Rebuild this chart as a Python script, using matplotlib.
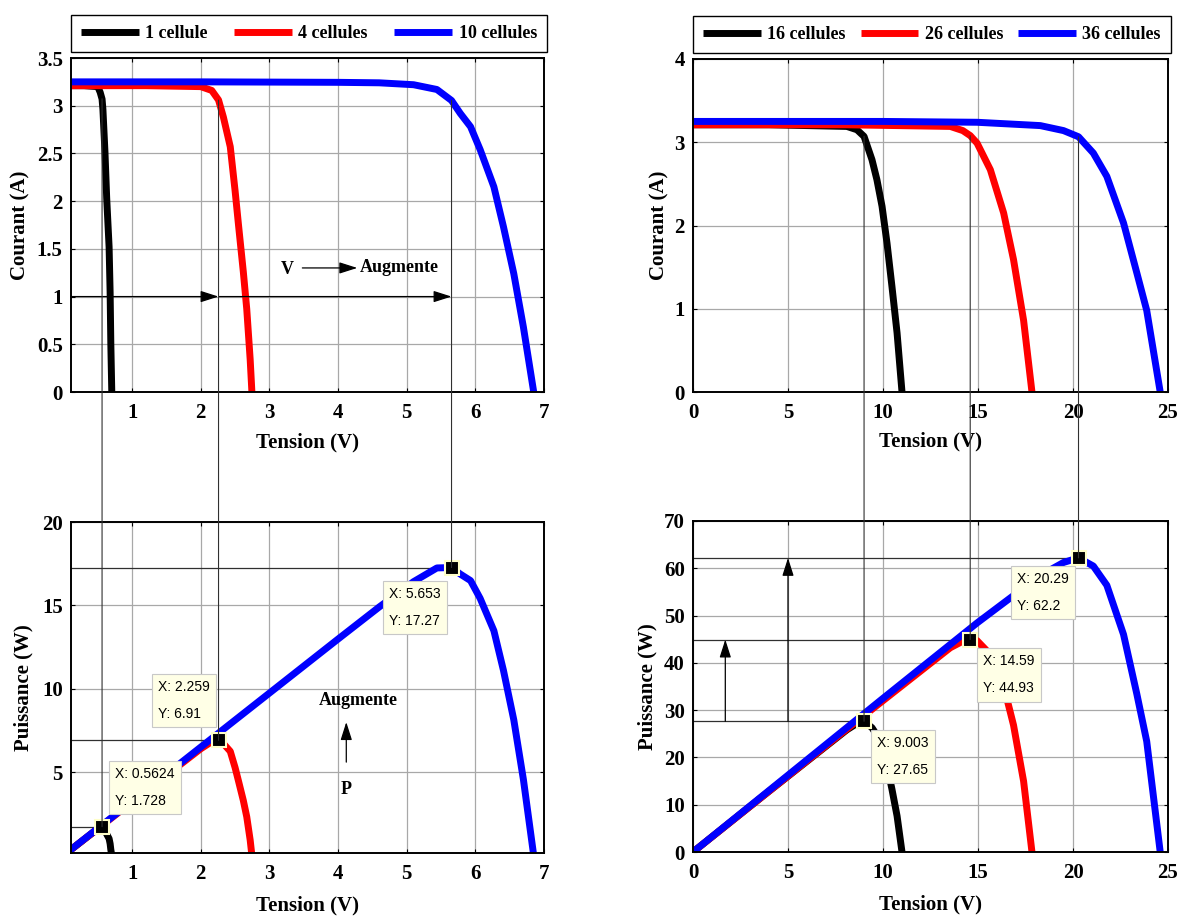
import matplotlib
matplotlib.use("Agg")
import matplotlib.pyplot as plt
from matplotlib.patches import ConnectionPatch

plt.rcParams['font.family'] = ['Liberation Serif', 'DejaVu Serif']
plt.rcParams['font.weight'] = 'bold'

# ---------------- data ----------------
V1 = [0, 0.30, 0.50, 0.535, 0.5624, 0.575, 0.605, 0.63, 0.665, 0.68, 0.69, 0.704]
I1 = [3.21, 3.21, 3.20, 3.14, 3.07, 2.96, 2.51, 2.03, 1.52, 1.04, 0.51, 0.0]

V4 = [0, 1.2, 2.0, 2.16, 2.259, 2.33, 2.43, 2.50, 2.55, 2.62, 2.67, 2.72, 2.745]
I4 = [3.21, 3.21, 3.20, 3.16, 3.06, 2.88, 2.57, 2.11, 1.75, 1.26, 0.87, 0.34, 0.0]

V10 = [0, 2.0, 4.0, 4.6, 5.1, 5.44, 5.653, 5.78, 5.93, 6.07, 6.27, 6.41, 6.56, 6.70, 6.85]
I10 = [3.25, 3.25, 3.245, 3.24, 3.22, 3.17, 3.055, 2.92, 2.78, 2.54, 2.15, 1.73, 1.24, 0.68, 0.0]

V16 = [0, 4, 8.10, 8.63, 9.003, 9.42, 9.68, 9.95, 10.21, 10.47, 10.74, 11.0]
I16 = [3.21, 3.21, 3.19, 3.15, 3.07, 2.79, 2.55, 2.23, 1.79, 1.27, 0.71, 0.0]

V26 = [0, 8, 13.54, 14.2, 14.59, 14.95, 15.65, 16.35, 16.87, 17.40, 17.84]
I26 = [3.21, 3.21, 3.19, 3.14, 3.08, 2.99, 2.67, 2.15, 1.59, 0.86, 0.0]

V36 = [0, 10, 14.95, 18.28, 19.5, 20.29, 21.07, 21.78, 22.66, 23.36, 23.88, 24.59]
I36 = [3.25, 3.25, 3.24, 3.20, 3.14, 3.066, 2.87, 2.59, 2.03, 1.43, 0.98, 0.0]

labels_left = ['1 cellule', '4 cellules', '10 cellules']
labels_right = ['16 cellules', '26 cellules', '36 cellules']
colors = ['black', 'red', 'blue']

tipV_left = [0.5624, 2.259, 5.653]
tipP_left = [1.728, 6.91, 17.27]
tipV_right = [9.003, 14.59, 20.29]
tipP_right = [27.65, 44.93, 62.2]

xt_left = [1, 2, 3, 4, 5, 6, 7]
yt_iv_left = [0, 0.5, 1, 1.5, 2, 2.5, 3, 3.5]
yt_pv_left = [5, 10, 15, 20]
xt_right = [0, 5, 10, 15, 20, 25]
yt_iv_right = [0, 1, 2, 3, 4]
yt_pv_right = [0, 10, 20, 30, 40, 50, 60, 70]

# ---------------- figure ----------------
W, H = 1189, 917
fig = plt.figure(figsize=(W / 100, H / 100), dpi=100)

def fax(l, t, r, b):
    return fig.add_axes([l / W, 1 - b / H, (r - l) / W, (b - t) / H])

ax_tl = fax(71, 58, 544, 392)
ax_tr = fax(693, 59, 1168, 392)
ax_bl = fax(71, 522, 544, 853)
ax_br = fax(693, 521, 1168, 852)

def style(ax, xlim, ylim, xt, yt, ylabel, ylx, xly):
    ax.set_xlim(*xlim)
    ax.set_ylim(*ylim)
    ax.set_xticks(xt)
    ax.set_yticks(yt)
    ax.set_xticklabels([f"{v:g}" for v in xt])
    ax.set_yticklabels([f"{v:g}" for v in yt])
    ax.grid(True, color='#a8a8a8', lw=0.9, ls='-')
    ax.set_axisbelow(True)
    ax.tick_params(direction='in', length=3, width=0.8, top=True, right=True,
                   labelsize=15, pad=6)
    ax.tick_params(axis='x', pad=8)
    for s in ax.spines.values():
        s.set_linewidth(1.4)
    ax.set_xlabel('Tension (V)', fontsize=15, fontweight='bold')
    ax.set_ylabel(ylabel, fontsize=15, fontweight='bold')
    ax.yaxis.set_label_coords(ylx, 0.5)
    ax.xaxis.set_label_coords(0.5, xly)

style(ax_tl, (0.11, 7), (0, 3.5), xt_left, yt_iv_left, 'Courant (A)', -0.086, -0.12)
style(ax_tr, (0, 25), (0, 4), xt_right, yt_iv_right, 'Courant (A)', -0.049, -0.12)
style(ax_bl, (0.11, 7), (0.15, 20), xt_left, yt_pv_left, 'Puissance (W)', -0.079, -0.128)
style(ax_br, (0, 25), (0, 70), xt_right, yt_pv_right, 'Puissance (W)', -0.074, -0.128)

left_sets = [(V1, I1), (V4, I4), (V10, I10)]
right_sets = [(V16, I16), (V26, I26), (V36, I36)]

for (V, I), c, lab in zip(left_sets, colors, labels_left):
    ax_tl.plot(V, I, color=c, lw=5, label=lab, solid_capstyle='butt', solid_joinstyle='round')
    ax_bl.plot(V, [v * i for v, i in zip(V, I)], color=c, lw=5, solid_joinstyle='round')
for (V, I), c, lab in zip(right_sets, colors, labels_right):
    ax_tr.plot(V, I, color=c, lw=5, label=lab, solid_capstyle='butt', solid_joinstyle='round')
    ax_br.plot(V, [v * i for v, i in zip(V, I)], color=c, lw=5, solid_joinstyle='round')

for ax in (ax_tl, ax_tr):
    leg = ax.legend(loc='lower left', bbox_to_anchor=(0, 1.018, 1.006, 0.0),
                    mode='expand', ncol=3, fancybox=False, framealpha=1,
                    edgecolor='black', fontsize=13, handlelength=3.2,
                    handletextpad=0.35, borderpad=0.55, borderaxespad=0)
    leg.get_frame().set_linewidth(1.0)
    for t in leg.get_texts():
        t.set_fontweight('bold')
    for h in leg.get_lines():
        h.set_linewidth(5)

# ---------------- data tips and guide lines ----------------
offs_left = [(6.6, 66), (-66.6, 66.7), (-68.4, -13.3)]
offs_right = [(6.7, -8.3), (6.7, -8.4), (-67.3, -7.7)]
pad_px = 6.2

def tips(ax_top, ax_bot, TV, TP, offs):
    x0 = ax_bot.get_xlim()[0]
    for v, p, (dx, dy) in zip(TV, TP, offs):
        ax_bot.plot([x0, v], [p, p], color='#303030', lw=0.9, zorder=1.5)
        con = ConnectionPatch(xyA=(v, p / v), coordsA=ax_top.transData,
                              xyB=(v, p), coordsB=ax_bot.transData,
                              color='#303030', lw=0.8, zorder=0.5)
        fig.add_artist(con)
        ax_bot.plot([v], [p], 's', ms=10, mfc='black', mec='#FFFFC8', mew=1.5, zorder=6)
        ax_bot.annotate(f"X: {v:g}\nY: {p:g}", xy=(v, p),
                        xytext=(dx + pad_px, dy - pad_px), textcoords='offset pixels',
                        ha='left', va='top', fontsize=10, fontweight='normal',
                        family=['Liberation Sans', 'DejaVu Sans'], linespacing=2.2,
                        bbox=dict(boxstyle='square,pad=0.45', fc='#FFFFE6', ec='#C8C8C8', lw=0.8),
                        zorder=7, annotation_clip=False)

tips(ax_tl, ax_bl, tipV_left, tipP_left, offs_left)
tips(ax_tr, ax_br, tipV_right, tipP_right, offs_right)

# ---------------- arrows & texts ----------------
arw = dict(arrowstyle='-|>,head_length=1.1,head_width=0.35', color='black', lw=0.9,
           shrinkA=0, shrinkB=0)
# top-left: horizontal arrows at I = 1
ax_tl.annotate('', xy=(tipV_left[1], 1.0), xytext=(0.11, 1.0), arrowprops=arw)
ax_tl.annotate('', xy=(tipV_left[2], 1.0), xytext=(tipV_left[1], 1.0), arrowprops=arw)
ax_tl.text(3.26, 1.28, 'V', fontsize=13, fontweight='bold', ha='center', va='center')
ax_tl.annotate('', xy=(4.28, 1.30), xytext=(3.48, 1.30), arrowprops=arw)
ax_tl.text(4.31, 1.30, 'Augmente', fontsize=13, fontweight='bold', ha='left', va='center')

# bottom-left: vertical arrow
ax_bl.text(4.29, 9.28, 'Augmente', fontsize=13, fontweight='bold', ha='center', va='center')
ax_bl.annotate('', xy=(4.12, 8.0), xytext=(4.12, 5.6), arrowprops=arw)
ax_bl.text(4.12, 3.95, 'P', fontsize=13, fontweight='bold', ha='center', va='center')

# bottom-right: vertical arrows
ax_br.annotate('', xy=(1.7, tipP_right[1]), xytext=(1.7, tipP_right[0]), arrowprops=arw)
ax_br.annotate('', xy=(5.0, tipP_right[2]), xytext=(5.0, tipP_right[0]), arrowprops=arw)

fig.savefig('out.png', dpi=100)
